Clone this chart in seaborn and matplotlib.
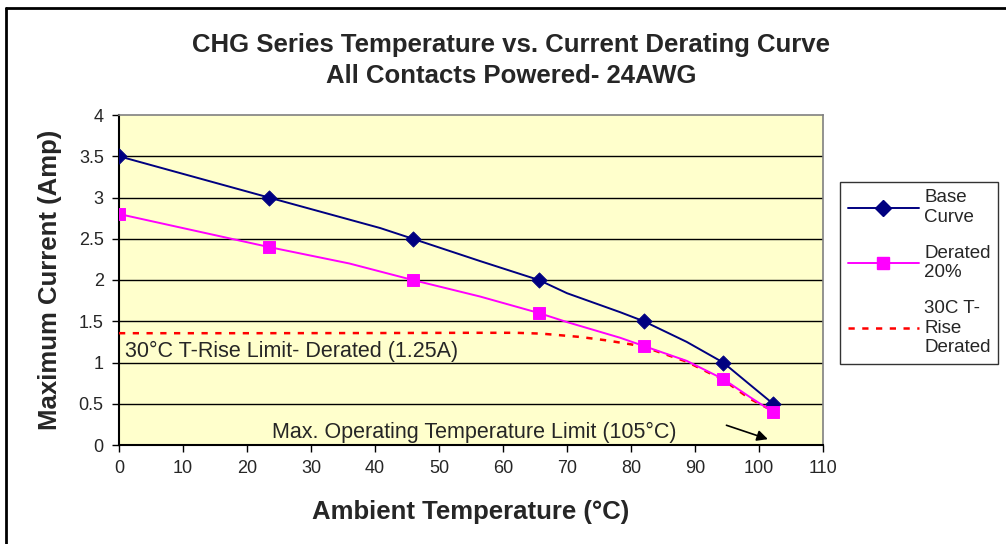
import matplotlib
matplotlib.use("Agg")
import matplotlib.pyplot as plt
import seaborn as sns
import numpy as np
from matplotlib.lines import Line2D

sns.set_style("white")
plt.rcParams['font.family'] = ['Liberation Sans', 'DejaVu Sans']

# Marker points
base_mx = [0, 23.4, 45.9, 65.6, 82.0, 94.4, 102.2]
base_my = [3.5, 3.0, 2.5, 2.0, 1.5, 1.0, 0.5]
der_mx = [0, 23.4, 45.9, 65.6, 82.0, 94.4, 102.2]
der_my = [2.8, 2.4, 2.0, 1.6, 1.2, 0.8, 0.4]

# Line vertices (smoothed curves)
base_lx = [0, 23.4, 40.8, 45.9, 56.4, 65.6, 70.0, 78.3, 82.0, 88.7, 94.4, 98.6, 102.2]
base_ly = [3.5, 3.0, 2.63, 2.5, 2.23, 2.0, 1.84, 1.61, 1.5, 1.25, 1.0, 0.73, 0.5]
der_lx = [0, 23.4, 36.0, 45.9, 56.4, 65.6, 70.0, 78.3, 82.0, 88.7, 94.4, 98.6, 102.2]
der_ly = [2.8, 2.4, 2.2, 2.0, 1.8, 1.6, 1.49, 1.3, 1.2, 1.02, 0.8, 0.58, 0.4]
red_lx = [0, 20, 40, 55, 62, 66, 72, 76, 80, 82, 88.7, 94.4, 98.6, 102.0]
red_ly = [1.355, 1.355, 1.357, 1.36, 1.36, 1.35, 1.31, 1.27, 1.22, 1.19, 1.01, 0.79, 0.56, 0.42]

xticks = list(range(0, 111, 10))
yticks = [0, 0.5, 1, 1.5, 2, 2.5, 3, 3.5, 4]
ytick_labels = ["0", "0.5", "1", "1.5", "2", "2.5", "3", "3.5", "4"]

fig = plt.figure(figsize=(10.06, 5.44), dpi=100)
ax = fig.add_axes([119/1006, 1-445/544, (823-119)/1006, (445-115)/544])
ax.set_facecolor("#FFFFCC")

for y in yticks[1:-1]:
    ax.axhline(y, color="black", lw=1.0, zorder=1)

sns.lineplot(x=red_lx, y=red_ly, ax=ax, color="#FF0000", lw=1.8, linestyle=(0, (2.5, 3)), zorder=3, sort=False)
sns.lineplot(x=base_lx, y=base_ly, ax=ax, color="#000080", lw=1.4, zorder=4, sort=False)
sns.lineplot(x=der_lx, y=der_ly, ax=ax, color="#FF00FF", lw=1.4, zorder=4, sort=False)
sns.scatterplot(x=base_mx, y=base_my, ax=ax, color="#000080", marker="D", s=60, edgecolor="#000080", zorder=5)
sns.scatterplot(x=der_mx, y=der_my, ax=ax, color="#FF00FF", marker="s", s=70, edgecolor="#FF00FF", zorder=5)

ax.set_xlim(0, 110)
ax.set_ylim(0, 4)
ax.set_xticks(xticks)
ax.set_yticks(yticks)
ax.set_yticklabels(ytick_labels)
ax.tick_params(axis="both", direction="out", length=5, width=1, color="black", labelsize=13, pad=6,
               bottom=True, left=True)
for side in ["left", "bottom"]:
    ax.spines[side].set_color("black")
    ax.spines[side].set_linewidth(1.5)
for side in ["top", "right"]:
    ax.spines[side].set_color("#808080")
    ax.spines[side].set_linewidth(1.2)

ax.set_xlabel("Ambient Temperature (°C)", fontsize=18.5, fontweight="bold", labelpad=16)
ax.set_ylabel("Maximum Current (Amp)", fontsize=18.5, fontweight="bold", labelpad=12)

ax.text(1.0, 1.13, "30°C T-Rise Limit- Derated (1.25A)", fontsize=15.5, ha="left", va="center", zorder=6)
ax.text(55.5, 0.15, "Max. Operating Temperature Limit (105°C)", fontsize=15.5, ha="center", va="center", zorder=6)
ax.annotate("", xy=(101.8, 0.06), xytext=(94.5, 0.25),
            arrowprops=dict(arrowstyle="-|>", color="black", lw=1.2, mutation_scale=16), zorder=6)

fig.text(0.508, 1-45/544, "CHG Series Temperature vs. Current Derating Curve", fontsize=18.5, fontweight="bold",
         ha="center", va="center")
fig.text(0.508, 1-76/544, "All Contacts Powered- 24AWG", fontsize=18.5, fontweight="bold",
         ha="center", va="center")

handles = [
    Line2D([], [], color="#000080", lw=1.4, marker="D", markersize=8),
    Line2D([], [], color="#FF00FF", lw=1.4, marker="s", markersize=8),
    Line2D([], [], color="#FF0000", lw=1.8, linestyle=(0, (2.5, 3))),
]
labels = ["Base\nCurve", "Derated\n20%", "30C T-\nRise\nDerated"]
leg = fig.legend(handles, labels, loc="upper left", bbox_to_anchor=(840/1006, 1-182/544),
                 frameon=True, fontsize=13.5, handlelength=3.8, labelspacing=1.0, borderpad=0.4,
                 handletextpad=0.3, fancybox=False, borderaxespad=0)
leg.get_frame().set_edgecolor("black")
leg.get_frame().set_linewidth(1.0)

# outer chart-area frame
fig.add_artist(Line2D([6/1006, 6/1006], [0, 1-8/544], transform=fig.transFigure, color="black", lw=2))
fig.add_artist(Line2D([6/1006, 1.0], [1-8/544, 1-8/544], transform=fig.transFigure, color="black", lw=2))

fig.savefig("out.png", dpi=100)
